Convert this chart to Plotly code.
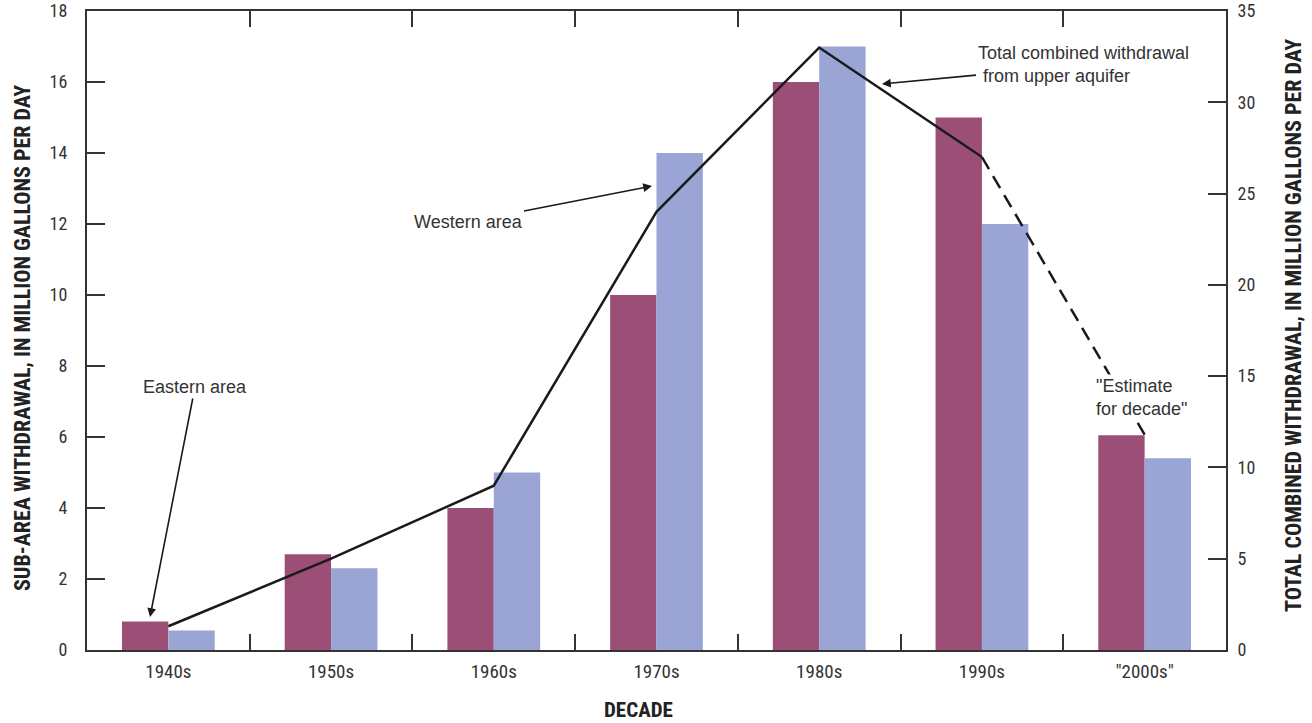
import plotly.graph_objects as go

decades = ["1940s", "1950s", "1960s", "1970s", "1980s", "1990s", "\"2000s\""]
eastern = [0.8, 2.7, 4.0, 10.0, 16.0, 15.0, 6.05]
western = [0.55, 2.3, 5.0, 14.0, 17.0, 12.0, 5.4]
total = [1.3, 5.0, 9.0, 24.0, 33.0, 27.0, 11.8]

RED = "#9c4f76"
BLUE = "#9aa5d5"
AX = "#333333"
NARROW = "Liberation Sans Narrow, Arial Narrow, Roboto Condensed, sans-serif"
REG = "Liberation Sans, Arial, Helvetica, sans-serif"

fig = go.Figure()
fig.add_trace(go.Bar(x=decades, y=eastern, name="Eastern area", marker=dict(color=RED, line=dict(width=0))))
fig.add_trace(go.Bar(x=decades, y=western, name="Western area", marker=dict(color=BLUE, line=dict(width=0))))
fig.add_trace(go.Scatter(x=decades[:6], y=total[:6], yaxis="y2", mode="lines",
                         line=dict(color="#1a1a1a", width=2.5), name="Total"))
fig.add_trace(go.Scatter(x=decades[5:], y=total[5:], yaxis="y2", mode="lines",
                         line=dict(color="#1a1a1a", width=2.5, dash="14px,8px"), name="Estimate"))

def px(x):
    return (x - 87) / 1139.0

def py(y):
    return (650 - y) / 639.0

TXT = dict(family=REG, size=18, color="#333")
ann = []
ann.append(dict(xref="paper", yref="paper", x=px(150), y=py(617), ax=45, ay=-230,
                text="Eastern area", showarrow=True, arrowhead=2, arrowsize=1.1, arrowwidth=1.6,
                arrowcolor="#1a1a1a", font=TXT))
ann.append(dict(xref="paper", yref="paper", x=px(652), y=py(186), ax=-184, ay=36,
                text="Western area", showarrow=True, arrowhead=2, arrowsize=1.1, arrowwidth=1.6,
                arrowcolor="#1a1a1a", font=TXT))
ann.append(dict(xref="paper", yref="paper", x=px(882), y=py(84), ax=201, ay=-19,
                text="Total combined withdrawal<br> from upper aquifer", align="left",
                showarrow=True, arrowhead=2, arrowsize=1.1, arrowwidth=1.6,
                arrowcolor="#1a1a1a", font=TXT))
ann.append(dict(xref="paper", yref="paper", x=px(1094), y=py(397), xanchor="left", yanchor="middle",
                text="\"Estimate<br>for decade\"", align="left", showarrow=False, bgcolor="white",
                font=TXT))
ann.append(dict(xref="paper", yref="paper", x=px(22), y=py(338), xanchor="center", yanchor="middle",
                textangle=-90, showarrow=False,
                text="<b>SUB-AREA WITHDRAWAL, IN MILLION GALLONS PER DAY</b>",
                font=dict(family=NARROW, size=22, color="#222")))
ann.append(dict(xref="paper", yref="paper", x=px(1293), y=py(326), xanchor="center", yanchor="middle",
                textangle=-90, showarrow=False,
                text="<b>TOTAL COMBINED WITHDRAWAL, IN MILLION GALLONS PER DAY</b>",
                font=dict(family=NARROW, size=22, color="#222")))
ann.append(dict(xref="paper", yref="paper", x=px(638), y=py(710), xanchor="center", yanchor="middle",
                showarrow=False,
                text="<b>DECADE</b>", font=dict(family=NARROW, size=21, color="#222")))

fig.update_layout(
    width=1312, height=723,
    margin=dict(l=87, r=86, t=11, b=73, autoexpand=False),
    paper_bgcolor="white", plot_bgcolor="white",
    barmode="group", bargap=0.43, bargroupgap=0,
    showlegend=False,
    annotations=ann,
    xaxis=dict(type="category", showline=True, linecolor=AX, linewidth=2, mirror="ticks",
               ticks="inside", tickson="boundaries", ticklen=16, tickwidth=2, tickcolor=AX,
               showgrid=False, zeroline=False, automargin=False, ticklabelstandoff=3,
               tickfont=dict(family=NARROW, size=19, color="#333")),
    yaxis=dict(range=[0, 18], dtick=2, showline=True, linecolor=AX, linewidth=2,
               ticks="inside", ticklen=18, tickwidth=2, tickcolor=AX, showgrid=False, zeroline=False,
               automargin=False, ticklabelstandoff=14,
               tickfont=dict(family=NARROW, size=18, color="#333")),
    yaxis2=dict(range=[0, 35], dtick=5, overlaying="y", side="right", showline=True, linecolor=AX,
                linewidth=2, ticks="inside", ticklen=18, tickwidth=2, tickcolor=AX,
                showgrid=False, zeroline=False, automargin=False, ticklabelstandoff=6,
                tickfont=dict(family=NARROW, size=18, color="#333")),
)

fig.write_html("out.html", config={"displayModeBar": False},
               post_script="document.body.style.margin='0';")
